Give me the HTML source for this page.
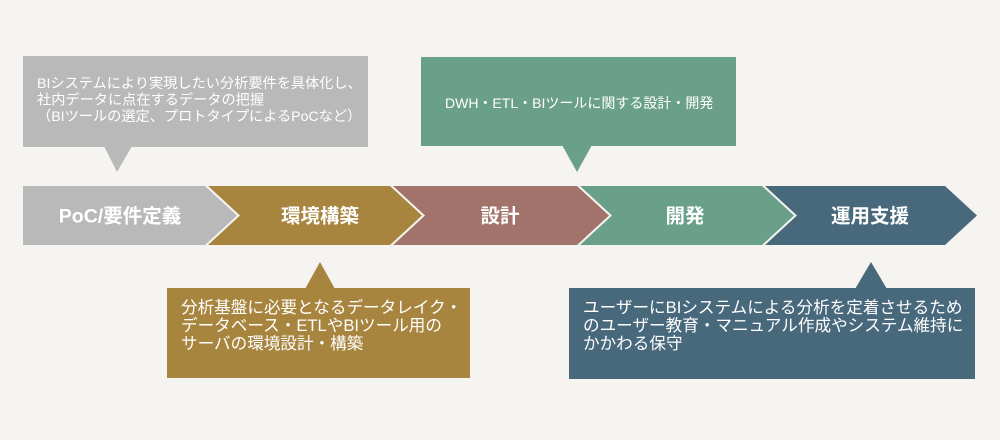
<!DOCTYPE html>
<html><head><meta charset="utf-8"><style>
html,body{margin:0;padding:0;background:#f5f4f0;}
svg{display:block}
text{font-family:"Liberation Sans","Noto Sans CJK JP",sans-serif;fill:#fff;}
.c{font-size:19.5px;font-weight:bold;text-anchor:middle;}
.s{font-size:14.2px;}
.g{font-size:14px;}
.m{font-size:16.6px;}
</style></head><body>
<svg width="1000" height="440" viewBox="0 0 1000 440">
<rect width="1000" height="440" fill="#f5f4f0"/>
<rect x="23" y="56" width="345" height="91" fill="#b9b9b9"/>
<polygon points="104,146 132,146 117,172" fill="#b9b9b9"/>
<text class="s" x="37" y="88">BIシステムにより実現したい分析要件を具体化し、</text>
<text class="s" x="37" y="104.5">社内データに点在するデータの把握</text>
<text class="s" x="37" y="121">（BIツールの選定、プロトタイプによるPoCなど）</text>

<rect x="421" y="57" width="315" height="89" fill="#6aa089"/>
<polygon points="562,145 592,145 577,172" fill="#6aa089"/>
<text class="g" x="445" y="108">DWH・ETL・BIツールに関する設計・開発</text>

<rect x="167" y="288" width="303" height="90" fill="#a8853f"/>
<polygon points="305,289 335,289 320,262" fill="#a8853f"/>
<text class="m" x="181" y="313">分析基盤に必要となるデータレイク・</text>
<text class="m" x="181" y="331">データベース・ETLやBIツール用の</text>
<text class="m" x="181" y="349">サーバの環境設計・構築</text>

<rect x="569" y="288" width="406" height="91" fill="#48687c"/>
<polygon points="855,289 887,289 871,262" fill="#48687c"/>
<text class="m" x="583" y="313">ユーザーにBIシステムによる分析を定着させるため</text>
<text class="m" x="583" y="331">のユーザー教育・マニュアル作成やシステム維持に</text>
<text class="m" x="583" y="349">かかわる保守</text>

<polygon points="23,186 205,186 237,215.5 205,245 23,245" fill="#b9b9b9"/>
<polygon points="208,186 390,186 422,215.5 390,245 208,245 240,215.5" fill="#a8853f"/>
<polygon points="393,186 577,186 609,215.5 577,245 393,245 425,215.5" fill="#a2736a"/>
<polygon points="580,186 762,186 794,215.5 762,245 580,245 612,215.5" fill="#6aa089"/>
<polygon points="765,186 945,186 977,215.5 945,245 765,245 797,215.5" fill="#48687c"/>
<text class="c" x="120" y="222.5">PoC/要件定義</text>
<text class="c" x="320" y="222.5">環境構築</text>
<text class="c" x="500" y="222.5">設計</text>
<text class="c" x="685" y="222.5">開発</text>
<text class="c" x="870" y="222.5">運用支援</text>
</svg>
</body></html>
